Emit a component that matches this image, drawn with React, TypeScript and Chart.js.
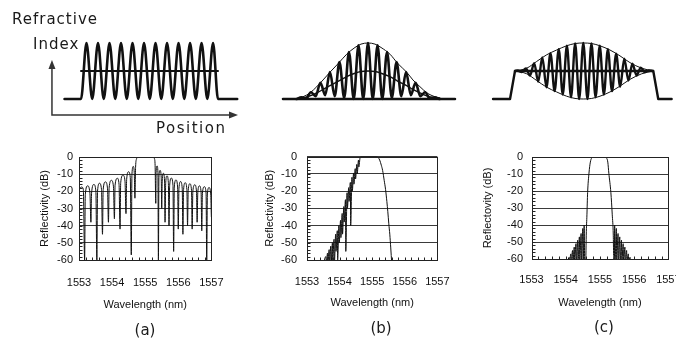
import React, { useEffect, useRef } from "react";
import { Chart, registerables } from "chart.js";

Chart.register(...registerables);

// ================= DATA =================
// Bottom row – reflection spectra (wavelength nm, reflectivity dB)
const wavelengthTicks = [1553, 1554, 1555, 1556, 1557];
const reflectivityTicks = [0, -10, -20, -30, -40, -50, -60];

// (a) uniform grating
const spectrumA: [number, number][] = [
  [1553.0, -20], [1553.03, -18.2], [1553.08, -17.5], [1553.13, -18.8], [1553.17, -60],
  [1553.19, -22], [1553.26, -16.8], [1553.33, -21], [1553.36, -38],
  [1553.38, -21], [1553.45, -16.0], [1553.51, -20], [1553.54, -60],
  [1553.56, -20], [1553.62, -15.3], [1553.68, -19], [1553.71, -45],
  [1553.73, -19], [1553.8, -14.5], [1553.86, -18], [1553.89, -38],
  [1553.91, -18], [1553.98, -13.6], [1554.04, -17], [1554.07, -36],
  [1554.09, -16.5], [1554.16, -12.4], [1554.21, -16], [1554.24, -42],
  [1554.26, -15], [1554.33, -10.6], [1554.39, -14], [1554.42, -33],
  [1554.44, -13], [1554.5, -8.6], [1554.55, -12], [1554.58, -57],
  [1554.6, -10], [1554.64, -5.5], [1554.67, -9], [1554.69, -24],
  [1554.71, -6], [1554.74, -1], [1554.77, 0], [1555.25, 0], [1555.28, -1], [1555.3, -5], [1555.32, -27],
  [1555.33, -9], [1555.36, -5.2], [1555.385, -9], [1555.4, -60],
  [1555.415, -12], [1555.45, -7.8], [1555.485, -12], [1555.5, -30],
  [1555.515, -14], [1555.55, -9.5], [1555.585, -14], [1555.6, -38],
  [1555.62, -15], [1555.66, -11], [1555.7, -15], [1555.72, -40],
  [1555.74, -16.5], [1555.79, -12.3], [1555.84, -16.5], [1555.86, -55],
  [1555.88, -17.5], [1555.93, -13.4], [1555.98, -17.5], [1556.0, -42],
  [1556.02, -18.5], [1556.07, -14.3], [1556.12, -18.5], [1556.14, -45],
  [1556.16, -19], [1556.21, -15], [1556.26, -19], [1556.28, -40],
  [1556.3, -19.5], [1556.35, -15.6], [1556.4, -19.5], [1556.42, -42],
  [1556.44, -20], [1556.5, -16.2], [1556.55, -20], [1556.57, -38],
  [1556.59, -20.5], [1556.64, -16.8], [1556.69, -20.5], [1556.71, -43],
  [1556.73, -21], [1556.79, -17.3], [1556.84, -21], [1556.86, -60],
  [1556.88, -21.5], [1556.93, -17.8], [1556.98, -21.5], [1557.0, -35],
];

// (b) gaussian apodized grating
const spectrumB: [number, number][] = [
  [1553.5, -62],
  [1553.58, -58], [1553.59, -62], [1553.63, -56], [1553.64, -62],
  [1553.68, -54], [1553.69, -62], [1553.73, -52], [1553.74, -62],
  [1553.78, -50], [1553.79, -60], [1553.83, -48], [1553.84, -62],
  [1553.88, -45], [1553.89, -55], [1553.93, -43], [1553.94, -60],
  [1553.98, -40], [1553.99, -50], [1554.03, -37], [1554.04, -47],
  [1554.08, -33], [1554.09, -45], [1554.13, -29], [1554.14, -38],
  [1554.18, -25], [1554.19, -55], [1554.23, -21], [1554.24, -30],
  [1554.28, -18], [1554.29, -26], [1554.33, -15], [1554.34, -40],
  [1554.38, -12], [1554.39, -20], [1554.43, -9.5], [1554.44, -16],
  [1554.48, -7], [1554.49, -13], [1554.53, -4.5], [1554.54, -10],
  [1554.58, -2], [1554.59, -6], [1554.63, -0.5], [1554.66, 0],
  [1555.12, 0], [1555.18, -0.5], [1555.23, -2], [1555.28, -5], [1555.32, -8],
  [1555.37, -14], [1555.41, -19], [1555.45, -26], [1555.48, -32],
  [1555.51, -39], [1555.54, -45], [1555.57, -53], [1555.6, -62],
];

// (c) DC-compensated apodized grating
const spectrumC: [number, number][] = [
  [1554.05, -62],
  [1554.1, -59], [1554.11, -62], [1554.15, -57], [1554.16, -62],
  [1554.2, -55], [1554.21, -62], [1554.25, -53], [1554.26, -62],
  [1554.3, -51], [1554.31, -62], [1554.35, -49], [1554.36, -62],
  [1554.4, -47], [1554.41, -62], [1554.45, -45], [1554.46, -62],
  [1554.5, -42], [1554.51, -62], [1554.54, -40], [1554.555, -62],
  [1554.585, -62], [1554.59, -58], [1554.6, -46], [1554.62, -34], [1554.64, -21],
  [1554.68, -9.5], [1554.72, -3], [1554.76, -0.5], [1554.8, 0],
  [1555.16, 0], [1555.19, -0.5], [1555.23, -3], [1555.26, -9.5], [1555.32, -21],
  [1555.36, -34], [1555.39, -46], [1555.4, -58], [1555.405, -62],
  [1555.425, -62], [1555.43, -40], [1555.44, -62], [1555.48, -42], [1555.49, -62],
  [1555.53, -45], [1555.54, -62], [1555.58, -47], [1555.59, -62],
  [1555.63, -49], [1555.64, -62], [1555.68, -51], [1555.69, -62],
  [1555.73, -53], [1555.74, -62], [1555.78, -55], [1555.79, -62],
  [1555.83, -57], [1555.84, -62], [1555.88, -59], [1555.89, -62],
  [1557.0, -62],
];

// Top row – refractive index profiles (position: % of grating length, index: normalized)
// (a) uniform
const profileAPosition = [-12, 0, 4, 8.2, 12.4, 16.6, 20.8, 25, 29.2, 33.4, 37.6, 41.8, 46, 50.2, 54.4, 58.6, 62.8, 67, 71.2, 75.4, 79.6, 83.8, 88, 92.2, 96.4, 100, 114];
const profileAIndex = [0, 0, 1, 0, 1, 0, 1, 0, 1, 0, 1, 0, 1, 0, 1, 0, 1, 0, 1, 0, 1, 0, 1, 0, 1, 0, 0];
const meanAPosition = [0, 100];
const meanAIndex = [0.5, 0.5];

// (b) gaussian apodized
const baselineBPosition = [-10.7, 112.1];
const baselineBIndex = [0, 0];
const profileBPosition = [-1, 2.4, 5.8, 9.2, 12.6, 16, 19.4, 22.8, 26.2, 29.6, 33, 36.4, 39.8, 43.2, 46.6, 50, 53.4, 56.8, 60.2, 63.6, 67, 70.4, 73.8, 77.2, 80.6, 84, 87.4, 90.8, 94.2, 97.6, 101];
const profileBIndex = [0, 0.03, 0.01, 0.12, 0.05, 0.29, 0.07, 0.48, 0.05, 0.66, 0.02, 0.84, 0, 0.96, 0, 1, 0, 0.96, 0, 0.84, 0.02, 0.66, 0.05, 0.48, 0.07, 0.29, 0.05, 0.12, 0.01, 0.03, 0];
const envelopeBPosition = [0, 3.6, 8.6, 13.4, 17.9, 22.9, 28.6, 34.8, 40.7, 45, 50, 55, 59.3, 65.7, 71.4, 77.6, 82.1, 87.1, 92.1, 97.9, 101.4];
const envelopeBIndex = [0.02, 0.04, 0.11, 0.22, 0.34, 0.48, 0.63, 0.8, 0.92, 0.98, 1, 0.98, 0.92, 0.8, 0.63, 0.48, 0.34, 0.22, 0.11, 0.04, 0.02];
const meanBIndex = [0.01, 0.02, 0.055, 0.11, 0.17, 0.24, 0.315, 0.4, 0.46, 0.49, 0.5, 0.49, 0.46, 0.4, 0.315, 0.24, 0.17, 0.11, 0.055, 0.02, 0.01];

// (c) DC-compensated apodized
const dcCPosition = [-15.9, -3.6, 0, 100.2, 103.8, 113.5];
const dcCIndex = [0, 0, 0.5, 0.5, 0, 0];
const envelopeCPosition = [0, 8.5, 15.7, 23, 30.2, 37.4, 43.5, 49.5, 55.6, 61.6, 68.8, 76.1, 83.3, 91.8, 100];
const envelopeCUpper = [0.5, 0.55, 0.67, 0.79, 0.875, 0.95, 0.99, 1, 0.99, 0.95, 0.875, 0.77, 0.65, 0.55, 0.5];
const envelopeCLower = [0.5, 0.45, 0.33, 0.21, 0.125, 0.05, 0.01, 0, 0.01, 0.05, 0.125, 0.23, 0.35, 0.45, 0.5];
const profileCPosition = [0, 2, 4.9, 7.9, 10.9, 13.9, 16.8, 19.8, 22.8, 25.7, 28.7, 31.7, 34.6, 37.6, 40.6, 43.6, 46.5, 49.5, 52.5, 55.4, 58.4, 61.4, 64.4, 67.3, 70.3, 73.3, 76.2, 79.2, 82.2, 85.1, 88.1, 91.1, 94.1, 97, 100];
const profileCIndex = [0.5, 0.51, 0.48, 0.545, 0.42, 0.64, 0.31, 0.74, 0.21, 0.82, 0.14, 0.89, 0.08, 0.95, 0.03, 0.99, 0, 1, 0, 0.99, 0.03, 0.95, 0.08, 0.89, 0.14, 0.81, 0.22, 0.72, 0.33, 0.63, 0.42, 0.56, 0.48, 0.51, 0.5];

// ================= STYLE / LAYOUT =================
const INK = "#111";
const TICK_FONT = { family: "'Liberation Sans', Arial, sans-serif", size: 11 };
const INDEX_MIN = -0.4643;
const INDEX_MAX = 1.3214;

const framePlugin = {
  id: "frame",
  afterDraw(chart: any, _args: any, opts: any) {
    if (!opts || !opts.xMinor) return;
    const { ctx, chartArea: a, scales } = chart;
    const xs = scales.x;
    const ys = scales.y;
    ctx.save();
    ctx.strokeStyle = "#222";
    ctx.lineWidth = 1;
    const l = Math.round(a.left) + 0.5;
    const t = Math.round(a.top) + 0.5;
    const r = Math.round(a.right) + 0.5;
    const b = Math.round(a.bottom) + 0.5;
    ctx.strokeRect(l, t, r - l, b - t);
    ctx.beginPath();
    for (let v = xs.min; v <= xs.max + 1e-9; v += opts.xMinor) {
      const px = Math.round(xs.getPixelForValue(v)) + 0.5;
      ctx.moveTo(px, b);
      ctx.lineTo(px, b - 3);
    }
    for (let v = ys.min; v <= ys.max + 1e-9; v += opts.yMinor) {
      const py = Math.round(ys.getPixelForValue(v)) + 0.5;
      ctx.moveTo(l, py);
      ctx.lineTo(l + 3, py);
    }
    ctx.stroke();
    ctx.restore();
  },
};

const arrowAxesPlugin = {
  id: "arrowAxes",
  afterDraw(chart: any, _args: any, opts: any) {
    if (!opts || opts.x0 == null) return;
    const { ctx } = chart;
    const xs = chart.scales.x;
    const ys = chart.scales.y;
    const ox = xs.getPixelForValue(opts.x0);
    const oy = ys.getPixelForValue(opts.y0);
    const ex = xs.getPixelForValue(opts.x1);
    const ey = ys.getPixelForValue(opts.y1);
    ctx.save();
    ctx.strokeStyle = "#333";
    ctx.fillStyle = "#333";
    ctx.lineWidth = 1.5;
    ctx.beginPath();
    ctx.moveTo(ox, ey + 6);
    ctx.lineTo(ox, oy);
    ctx.lineTo(ex - 6, oy);
    ctx.stroke();
    ctx.beginPath();
    ctx.moveTo(ox, ey);
    ctx.lineTo(ox - 3.5, ey + 9);
    ctx.lineTo(ox + 3.5, ey + 9);
    ctx.closePath();
    ctx.fill();
    ctx.beginPath();
    ctx.moveTo(ex, oy);
    ctx.lineTo(ex - 9, oy - 3.5);
    ctx.lineTo(ex - 9, oy + 3.5);
    ctx.closePath();
    ctx.fill();
    ctx.restore();
  },
};

function series(pos: number[], val: number[], width: number, smooth = true) {
  return {
    data: pos.map((x, i) => ({ x, y: val[i] })),
    borderColor: INK,
    borderWidth: width,
    pointRadius: 0,
    fill: false,
    tension: 0,
    cubicInterpolationMode: smooth ? "monotone" : "default",
    clip: false,
    borderCapStyle: "round",
    borderJoinStyle: "round",
  };
}

function profileConfig(datasets: any[], xMin: number, xMax: number, arrows?: any) {
  return {
    type: "line",
    data: { datasets },
    options: {
      animation: false,
      responsive: false,
      events: [],
      layout: { padding: 0 },
      plugins: { legend: { display: false }, tooltip: { enabled: false }, arrowAxes: arrows || {} },
      scales: {
        x: { type: "linear", display: false, min: xMin, max: xMax },
        y: { type: "linear", display: false, min: INDEX_MIN, max: INDEX_MAX },
      },
    },
    plugins: [arrowAxesPlugin],
  };
}

interface SpecPanel {
  points: [number, number][];
  yTitle: string;
  pad: { top: number; right: number; bottom: number };
  yAxisWidth: number;
  xAxisHeight: number;
  xTickPad: number;
  yTickPad: number;
  yTitlePad: number;
}

function spectrumConfig(p: SpecPanel) {
  return {
    type: "line",
    data: {
      datasets: [
        {
          data: p.points.map(([x, y]) => ({ x, y })),
          borderColor: INK,
          borderWidth: 1,
          pointRadius: 0,
          fill: false,
          tension: 0,
          cubicInterpolationMode: "monotone",
        },
      ],
    },
    options: {
      animation: false,
      responsive: false,
      events: [],
      layout: { padding: { left: 0, top: p.pad.top, right: p.pad.right, bottom: p.pad.bottom } },
      plugins: { legend: { display: false }, tooltip: { enabled: false }, frame: { xMinor: 0.2, yMinor: 2 } },
      scales: {
        x: {
          type: "linear",
          min: wavelengthTicks[0],
          max: wavelengthTicks[wavelengthTicks.length - 1],
          afterBuildTicks: (s: any) => {
            s.ticks = wavelengthTicks.map((v) => ({ value: v }));
          },
          ticks: { padding: p.xTickPad, color: INK, font: TICK_FONT, maxRotation: 0, autoSkip: false, callback: (v: any) => String(v) },
          grid: { display: false, drawTicks: false },
          border: { display: false },
          title: { display: true, text: "Wavelength (nm)", color: INK, font: TICK_FONT, padding: { top: 0, bottom: 0 } },
          afterFit: (s: any) => {
            s.height = p.xAxisHeight;
          },
        },
        y: {
          type: "linear",
          min: reflectivityTicks[reflectivityTicks.length - 1],
          max: reflectivityTicks[0],
          afterBuildTicks: (s: any) => {
            s.ticks = reflectivityTicks.slice().reverse().map((v) => ({ value: v }));
          },
          ticks: { padding: p.yTickPad, color: INK, font: TICK_FONT, callback: (v: any) => String(v) },
          grid: { color: "#3a3a3a", lineWidth: 1, drawTicks: false },
          border: { display: false },
          title: { display: true, text: p.yTitle, color: INK, font: TICK_FONT, padding: { top: p.yTitlePad, bottom: 0 } },
          afterFit: (s: any) => {
            s.width = p.yAxisWidth;
          },
        },
      },
    },
    plugins: [framePlugin],
  };
}

function ChartBox(props: { left: number; top: number; width: number; height: number; build: () => any }) {
  const ref = useRef<HTMLCanvasElement>(null);
  useEffect(() => {
    const chart = new Chart(ref.current as HTMLCanvasElement, props.build());
    return () => chart.destroy();
  }, []);
  return (
    <canvas
      ref={ref}
      width={props.width}
      height={props.height}
      style={{ position: "absolute", left: props.left, top: props.top, width: props.width, height: props.height }}
    />
  );
}

function Label(props: { text: string; left: number; top: number; center?: boolean; spacing?: number }) {
  const style: React.CSSProperties = {
    position: "absolute",
    top: props.top,
    fontFamily: "'DejaVu Sans', sans-serif",
    fontSize: 15,
    lineHeight: "15px",
    color: "#1a1a1a",
    letterSpacing: props.spacing ?? 0,
    whiteSpace: "nowrap",
  };
  if (props.center) {
    style.left = props.left - 30;
    style.width = 60;
    style.textAlign = "center";
  } else {
    style.left = props.left;
  }
  return <div style={style}>{props.text}</div>;
}

export default function App() {
  return (
    <div style={{ position: "absolute", left: 0, top: 0, width: 676, height: 341, overflow: "hidden", background: "#fff" }}>
      {/* top row: index profiles */}
      <ChartBox
        left={40}
        top={25}
        width={210}
        height={100}
        build={() =>
          profileConfig(
            [series(meanAPosition, meanAIndex, 2, false), series(profileAPosition, profileAIndex, 2.6)],
            -29.93,
            123.36,
            { x0: -21.2, y0: -0.286, x1: 114.6, y1: 0.696 }
          )
        }
      />
      <ChartBox
        left={270}
        top={25}
        width={200}
        height={100}
        build={() =>
          profileConfig(
            [
              series(envelopeBPosition, envelopeBIndex, 1),
              series(envelopeBPosition, meanBIndex, 1.4),
              series(baselineBPosition, baselineBIndex, 2.6, false),
              series(profileBPosition, profileBIndex, 2.6),
            ],
            -20,
            122.86
          )
        }
      />
      <ChartBox
        left={480}
        top={25}
        width={196}
        height={100}
        build={() =>
          profileConfig(
            [
              series(envelopeCPosition, envelopeCUpper, 1),
              series(envelopeCPosition, envelopeCLower, 1),
              series(dcCPosition, dcCIndex, 2.4, false),
              series(profileCPosition, profileCIndex, 2.4),
            ],
            -25.36,
            116.67
          )
        }
      />

      {/* bottom row: spectra */}
      <ChartBox
        left={0}
        top={140}
        width={240}
        height={200}
        build={() =>
          spectrumConfig({
            points: spectrumA,
            yTitle: "Reflectivity (dB)",
            pad: { top: 17, right: 18, bottom: 28.4 },
            yAxisWidth: 79,
            xAxisHeight: 51.6,
            xTickPad: 16.4,
            yTickPad: 6,
            yTitlePad: 38.4,
          })
        }
      />
      <ChartBox
        left={240}
        top={140}
        width={225}
        height={200}
        build={() =>
          spectrumConfig({
            points: spectrumB,
            yTitle: "Reflectivity (dB)",
            pad: { top: 15, right: 15, bottom: 30.4 },
            yAxisWidth: 67,
            xAxisHeight: 49.6,
            xTickPad: 15.4,
            yTickPad: 10,
            yTitlePad: 23.4,
          })
        }
      />
      <ChartBox
        left={465}
        top={140}
        width={230}
        height={200}
        build={() =>
          spectrumConfig({
            points: spectrumC,
            yTitle: "Reflectovity (dB)",
            pad: { top: 17, right: 25.5, bottom: 30.4 },
            yAxisWidth: 66.5,
            xAxisHeight: 50.6,
            xTickPad: 14.4,
            yTickPad: 8.5,
            yTitlePad: 16.4,
          })
        }
      />

      {/* text */}
      <Label text="Refractive" left={12} top={12} spacing={1} />
      <Label text="Index" left={33} top={37} spacing={1} />
      <Label text="Position" left={156} top={121} spacing={1.5} />
      <Label text="(a)" left={145} top={323} center />
      <Label text="(b)" left={381} top={321} center />
      <Label text="(c)" left={604} top={320} center />
    </div>
  );
}
